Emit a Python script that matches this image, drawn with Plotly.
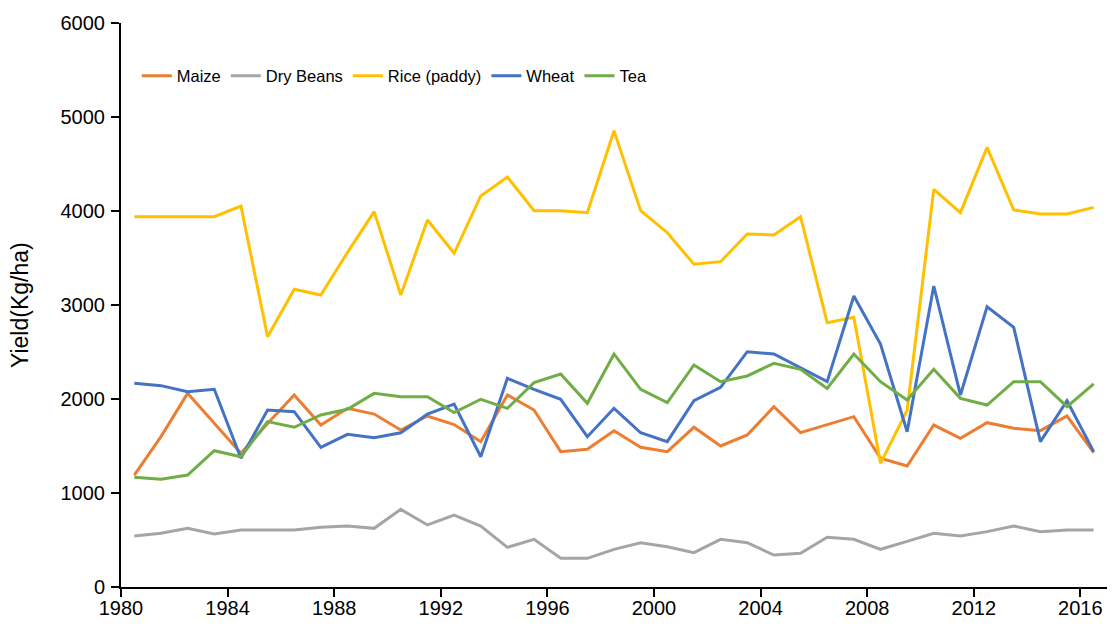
import plotly.graph_objects as go

years = list(range(1980, 2017))

maize = [1191, 1600, 2060, 1740, 1422, 1740, 2043, 1723, 1901, 1840,
         1670, 1819, 1728, 1546, 2043, 1883, 1440, 1465, 1663, 1486,
         1440, 1699, 1500, 1617, 1918, 1642, 1725, 1812, 1369, 1287,
         1723, 1582, 1748, 1688, 1663, 1819, 1429]

dry_beans = [543, 571, 624, 564, 606, 606, 606, 635, 649, 624,
             826, 660, 766, 649, 422, 507, 305, 305, 400, 471,
             429, 365, 507, 471, 340, 358, 529, 507, 401, 486,
             571, 543, 589, 649, 589, 606, 606]

rice = [3940, 3940, 3940, 3940, 4053, 2663, 3167, 3106, 3560, 3993,
        3106, 3904, 3550, 4160, 4362, 4003, 4003, 3982, 4854, 4003,
        3769, 3433, 3461, 3755, 3745, 3940, 2812, 2869, 1316, 1880,
        4230, 3982, 4677, 4011, 3968, 3968, 4039]

wheat = [2167, 2142, 2078, 2103, 1369, 1883, 1865, 1486, 1624, 1589,
         1641, 1840, 1945, 1386, 2220, 2103, 1997, 1599, 1901, 1641,
         1546, 1982, 2124, 2503, 2479, 2330, 2184, 3096, 2585, 1652,
         3202, 2043, 2982, 2762, 1546, 1982, 1440]

tea = [1167, 1146, 1191, 1450, 1386, 1759, 1699, 1830, 1890, 2060,
       2025, 2025, 1856, 1997, 1901, 2174, 2266, 1954, 2479, 2103,
       1961, 2362, 2184, 2245, 2380, 2316, 2113, 2479, 2184, 1989,
       2316, 2007, 1936, 2184, 2184, 1918, 2160]

series_names = ["Maize", "Dry Beans", "Rice (paddy)", "Wheat", "Tea"]
series_values = [maize, dry_beans, rice, wheat, tea]
series_colors = ["#ED7D31", "#A5A5A5", "#FFC000", "#4472C4", "#70AD47"]

x_tick_labels = ["1980", "1984", "1988", "1992", "1996", "2000",
                 "2004", "2008", "2012", "2016"]
y_tick_values = [0, 1000, 2000, 3000, 4000, 5000, 6000]
y_title = "Yield(Kg/ha)"

fig = go.Figure()
for name, vals, col in zip(series_names, series_values, series_colors):
    fig.add_trace(go.Scatter(x=years, y=vals, mode="lines", name=name,
                             line=dict(color=col, width=3)))

font_family = "Liberation Sans, Arial, sans-serif"
# The page body adds an 8 px offset, so the figure is 8 px smaller each way.
fig.update_layout(
    width=1112, height=621,
    margin=dict(l=113, r=13, t=15, b=42),
    paper_bgcolor="white", plot_bgcolor="white",
    font=dict(family=font_family, color="black"),
    showlegend=True,
    legend=dict(orientation="h", x=0.016, xanchor="left", y=0.906,
                yanchor="middle", font=dict(size=16.5, family=font_family),
                bgcolor="rgba(0,0,0,0)", itemwidth=30, tracegroupgap=0),
    xaxis=dict(range=[1979.5, 2016.5],
               tickvals=[int(t) - 0.5 for t in x_tick_labels],
               ticktext=x_tick_labels, automargin=False,
               showgrid=False, zeroline=False, showline=True,
               linecolor="black", linewidth=2,
               ticks="outside", ticklen=8, tickwidth=2, tickcolor="black",
               ticklabelstandoff=-6, tickfont=dict(size=20)),
    yaxis=dict(range=[0, 6000], tickvals=y_tick_values, automargin=False,
               showgrid=False, zeroline=False, showline=True,
               linecolor="black", linewidth=2,
               ticks="outside", ticklen=8, tickwidth=2, tickcolor="black",
               ticklabelstandoff=2, tickfont=dict(size=20)),
    annotations=[dict(text=y_title, xref="paper", yref="paper",
                      x=-0.1024, y=0.5, xanchor="center", yanchor="middle",
                      textangle=-90, showarrow=False,
                      font=dict(size=23, family=font_family))],
)

fig.write_html("out.html")
